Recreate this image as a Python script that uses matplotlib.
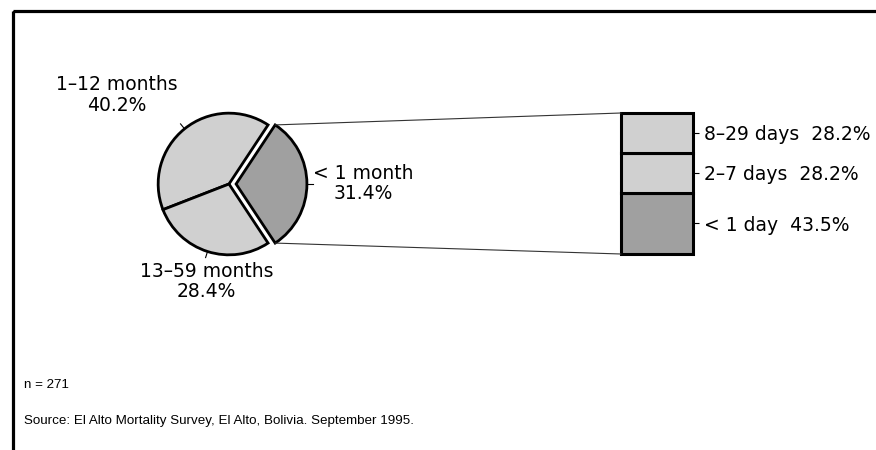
import numpy as np
import matplotlib
matplotlib.use("Agg")
import matplotlib.pyplot as plt
from matplotlib.patches import Rectangle, ConnectionPatch

# data
age_labels = ["< 1 month", "1\u201312 months", "13\u201359 months"]
age_pct = [31.4, 40.2, 28.4]
sub_labels = ["< 1 day", "2\u20137 days", "8\u201329 days"]
sub_pct = [43.5, 28.2, 28.2]
n_total = 271
source = "Source: El Alto Mortality Survey, El Alto, Bolivia. September 1995."

light = "#d0d0d0"
dark = "#a0a0a0"
W, H = 876, 450
plt.rcParams['font.family'] = ['DejaVu Sans']

fig = plt.figure(figsize=(W / 100, H / 100), dpi=100)


def px_axes(x0, y0, w, h):
    # axes placed by pixel box (top-left origin)
    return fig.add_axes([x0 / W, (H - y0 - h) / H, w / W, h / H])


# background: frame and notes
bg = px_axes(0, 0, W, H)
bg.set_xlim(0, W)
bg.set_ylim(H, 0)
bg.axis("off")
bg.add_patch(Rectangle((12.5, 10.5), 900, 500, fill=False, lw=2.3, ec="black"))
small = dict(family=["Liberation Sans Narrow", "Liberation Sans"], fontsize=9.6, va="center")
bg.text(24, 385, "n = %d" % n_total, **small)
bg.text(24, 421, source, **small)

# pie
cx, cy, half = 229, 184, 85
pax = px_axes(cx - half, cy - half, 2 * half, 2 * half)
wedges, _ = pax.pie(age_pct, colors=[dark, light, light], explode=[0.1, 0, 0],
                    startangle=-age_pct[0] * 3.6 / 2, counterclock=True,
                    wedgeprops=dict(ec="black", lw=2))
pax.set_xlim(-1.2, 1.2)
pax.set_ylim(-1.2, 1.2)
pax.set_aspect("equal")

# small radial ticks at slice midpoints
for w in wedges:
    a = np.deg2rad((w.theta1 + w.theta2) / 2)
    ox, oy = w.center
    pax.plot([ox + 1.01 * np.cos(a), ox + 1.09 * np.cos(a)],
             [oy + 1.01 * np.sin(a), oy + 1.09 * np.sin(a)],
             color="black", lw=0.8, clip_on=False)

lab_pos = [(1.89, 0.01), (-1.58, 1.26), (-0.32, -1.38)]
for lab, pct, (lx, ly) in zip(age_labels, age_pct, lab_pos):
    pax.text(lx, ly, "%s\n%.1f%%" % (lab, pct), ha="center", va="center",
             fontsize=13.5, linespacing=1.1, clip_on=False)

# stacked bar for < 1 month
bax = px_axes(621, 113, 72, 141)
bottoms = np.concatenate([[0], np.cumsum(sub_pct)[:-1]])
bars = bax.bar([0] * len(sub_pct), sub_pct, bottom=bottoms, width=1,
               color=[dark, light, light], edgecolor="black", linewidth=2.2)
for b in bars:
    b.set_clip_on(False)
bax.set_xlim(-0.5, 0.5)
bax.set_ylim(0, sum(sub_pct))
for s in bax.spines.values():
    s.set_visible(False)
bax.set_xticks([])
bax.yaxis.tick_right()
bax.set_yticks(bottoms + np.array(sub_pct) / 2)
bax.set_yticklabels(["%s  %.1f%%" % (l, p) for l, p in zip(sub_labels, sub_pct)],
                    fontsize=13.5)
bax.tick_params(axis="y", length=4, width=0.8, pad=4)

# lines from the exploded wedge to the bar
w0 = wedges[0]
ox, oy = w0.center
for ang, yb in [(w0.theta2, sum(sub_pct)), (w0.theta1, 0)]:
    a = np.deg2rad(ang)
    con = ConnectionPatch(xyA=(ox + np.cos(a), oy + np.sin(a)), coordsA=pax.transData,
                          xyB=(-0.5, yb), coordsB=bax.transData,
                          color="#333333", lw=0.8)
    fig.add_artist(con)

fig.savefig("out.png", dpi=100)
